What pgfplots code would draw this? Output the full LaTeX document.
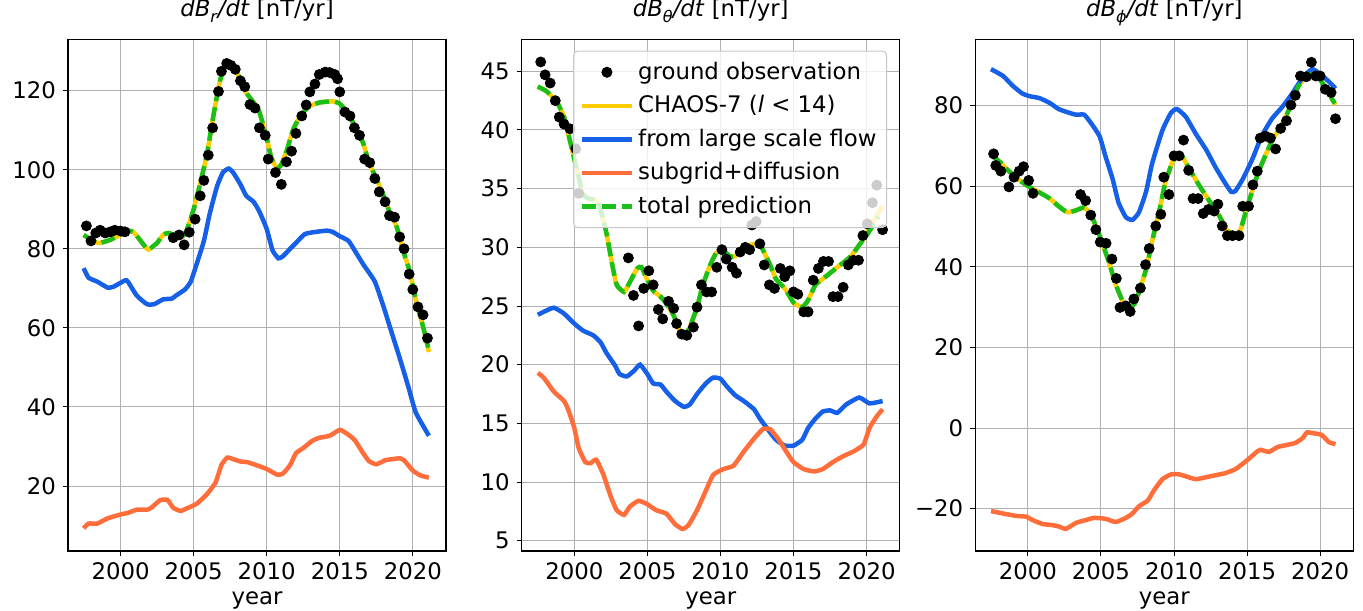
\documentclass[border=0pt]{standalone}
\usepackage{fontspec}
\setmainfont{DejaVu Sans}
\usepackage{pgfplots}
\pgfplotsset{compat=1.18}
\definecolor{cyel}{HTML}{FFCC00}
\definecolor{cblue}{HTML}{1560E6}
\definecolor{corange}{HTML}{FF6E3A}
\definecolor{cgreen}{HTML}{1ABF1A}
\definecolor{gridc}{HTML}{B0B0B0}
\newcommand{\fs}{\fontsize{11.4}{13.7}\selectfont}
\newcommand{\ttl}[1]{\textit{dB}\raisebox{-0.28em}{\fontsize{8}{8}\selectfont\textit{#1}}\textit{/dt} [nT/yr]}
\pgfplotsset{
 myax/.style={
  scale only axis, width=189pt, height=255.85pt, anchor=south west,
  xmin=1996.4, xmax=2022.27,
  xtick={2000,2005,...,2020},
  xticklabels={2000,2005,2010,2015,2020},
  grid=major, major grid style={color=gridc, line width=0.5pt},
  axis line style={line width=0.65pt},
  tick align=outside, tick pos=left, major tick length=2.5pt,
  tick style={black, line width=0.5pt},
  tick label style={font=\fs},
  xlabel={year}, label style={font=\fs},
  xlabel style={at={(0.5,0)}, anchor=base, yshift=-27pt},
  title style={font=\fs, at={(0.5,1)}, anchor=base, yshift=5.6pt},
 },
 obs/.style={only marks, mark=*, mark size=2.5pt, black, mark options={fill opacity=1}},
 chaos/.style={cyel, line width=2.25pt, no marks, smooth, tension=0.3},
 flow/.style={cblue, line width=2.25pt, no marks, smooth, tension=0.3},
 sub/.style={corange, line width=2.25pt, no marks, smooth, tension=0.3},
 tot/.style={cgreen, line width=2.25pt, no marks, smooth, tension=0.3, dash pattern=on 7pt off 3pt},
}
\begin{document}
\begin{tikzpicture}
\path[use as bounding box] (0,0) rectangle (681.5pt,305pt);
% ---------------- panel 1
\begin{axis}[myax, at={(34pt,29.5pt)}, ymin=3.56, ymax=133, ytick={20,40,...,120},
  yticklabels={20,40,60,80,100,120}, title={\ttl{r}}]
\addplot[obs] table {
1997.66 85.8
1997.97 82
1998.3 84
1998.6 84.7
1998.95 84
1999.3 84.3
1999.6 84.7
2000.0 84.5
2000.3 84.3
2003.6 82.8
2004.0 83.5
2004.35 81
2004.7 84.2
2005.1 87.5
2005.45 93.4
2005.7 97.3
2006.0 103.7
2006.3 110.6
2006.7 119.8
2006.9 124.9
2007.26 126.9
2007.55 126.4
2007.85 125.4
2008.2 122.5
2008.5 121
2008.85 116.5
2009.2 115.6
2009.5 110.6
2009.9 108.7
2010.1 102.7
2010.6 99.3
2011.0 96.3
2011.35 102
2011.7 104.7
2012.0 109.2
2012.4 113.6
2012.7 116.4
2012.95 119.7
2013.3 121.7
2013.6 124.1
2014.0 124.7
2014.3 124.6
2014.65 124.1
2014.85 123
2015.0 119.7
2015.35 114.6
2015.7 113.6
2016.0 110.6
2016.35 108.7
2016.7 102.7
2017.05 101.8
2017.4 97.8
2017.7 94.4
2018.1 91.9
2018.4 88.4
2018.75 88
2019.1 83
2019.4 80
2019.75 73.6
2020.0 69.7
2020.35 65.3
2020.7 63.3
2021.0 57.4
};
\addplot[chaos] table {
1997.47 83.5
1998.4 81.5
1999.1 82
2000.0 83.5
2000.5 84.5
2000.9 84.2
2001.8 80
2002.0 80
2002.5 81.5
2002.9 83.5
2003.3 84
2004.1 82.8
2004.5 84.5
2005.0 90
2005.4 95.8
2005.9 103.7
2006.3 112.6
2006.8 122.5
2007.3 127.4
2007.7 126
2008.2 123
2008.6 119.5
2009.1 117
2009.5 114.6
2010.0 108
2010.3 103.2
2010.7 100.3
2011.0 101.3
2011.4 105.2
2011.8 110.1
2012.3 113.6
2012.9 116
2013.6 117
2014.5 117.3
2015.0 116.7
2015.6 114
2016.1 110.6
2016.6 106.7
2017.0 101.8
2017.5 97.8
2018.0 93.4
2018.4 89.4
2018.9 85.5
2019.3 80
2019.8 74.1
2020.2 67.2
2020.7 60.3
2021.1 53.9
};
\addplot[flow] table {
1997.47 75.1
1997.8 72.7
1998.4 71.7
1999.1 70.2
1999.5 70.4
2000.3 72
2000.5 71.7
2001.1 68.2
2001.8 66
2002.3 66
2002.9 67.2
2003.5 67.4
2003.8 68.2
2004.4 69.7
2004.8 71.7
2005.2 76.1
2005.7 82
2006.1 88.9
2006.6 95.8
2007.0 99.3
2007.4 100.3
2007.7 99.3
2008.2 96.3
2008.6 93.4
2009.1 91.9
2009.5 89.4
2010.0 85
2010.4 79.6
2010.8 77.6
2011.1 78.1
2011.6 80
2012.0 81.5
2012.6 83.7
2013.2 84.2
2014.1 84.6
2014.5 84.3
2015.0 83.2
2015.6 82
2016.1 79.1
2016.6 76.1
2017.4 71.7
2018.0 65.3
2018.5 59.4
2019.1 52.4
2019.7 45
2020.2 38.6
2021.1 32.7
};
\addplot[sub] table {
1997.47 9.3
1997.8 10.5
1998.4 10.5
1999.1 11.8
2000.0 12.8
2000.5 13.2
2001.1 14
2001.8 14
2002.1 14.5
2002.7 16.4
2003.2 16.5
2003.6 14.5
2004.1 13.7
2004.5 14.3
2005.2 15.5
2005.9 17.9
2006.5 20.9
2006.9 25.3
2007.3 27.2
2007.7 26.8
2008.2 26.2
2008.7 26
2009.5 25
2010.0 24.3
2010.7 22.9
2011.1 23.1
2011.6 25.3
2012.0 28.3
2012.5 29.6
2013.1 31.4
2013.6 32.2
2014.3 32.7
2015.0 34.2
2015.5 33.2
2016.0 31.7
2016.6 28.3
2017.0 26.3
2017.5 25.5
2018.1 26.5
2018.6 26.8
2019.1 27
2019.4 26.5
2020.0 23.9
2020.5 22.7
2021.1 22.1
};
\addplot[tot] table {
1997.47 83.5
1998.4 81.5
1999.1 82
2000.0 83.5
2000.5 84.5
2000.9 84.2
2001.8 80
2002.0 80
2002.5 81.5
2002.9 83.5
2003.3 84
2004.1 82.8
2004.5 84.5
2005.0 90
2005.4 95.8
2005.9 103.7
2006.3 112.6
2006.8 122.5
2007.3 127.4
2007.7 126
2008.2 123
2008.6 119.5
2009.1 117
2009.5 114.6
2010.0 108
2010.3 103.2
2010.7 100.3
2011.0 101.3
2011.4 105.2
2011.8 110.1
2012.3 113.6
2012.9 116
2013.6 117
2014.5 117.3
2015.0 116.7
2015.6 114
2016.1 110.6
2016.6 106.7
2017.0 101.8
2017.5 97.8
2018.0 93.4
2018.4 89.4
2018.9 85.5
2019.3 80
2019.8 74.1
2020.2 67.2
2020.7 60.3
2021.05 55
};
\end{axis}
% ---------------- panel 2
\begin{axis}[myax, at={(260.85pt,29.5pt)}, ymin=4.12, ymax=47.73, ytick={5,10,...,45},
  yticklabels={5,10,15,20,25,30,35,40,45}, title={\ttl{\textit{θ}}},
  legend cell align=left,
  legend style={at={(1,1)}, anchor=north east, xshift=-6.35pt, yshift=-5.65pt,
    font=\fs, draw=gridc!70, rounded corners=2pt, line width=0.5pt,
    fill=white, fill opacity=0.8, draw opacity=1, text opacity=1,
    row sep=2.6pt, inner xsep=3pt, inner ysep=3.5pt},
  legend image code/.code={\draw[mark repeat=2,mark phase=2,fill opacity=1,#1] plot coordinates {(0cm,0cm) (0.44cm,0cm) (0.88cm,0cm)};}]
\addplot[obs] table {
1997.7 45.8
1998.0 44.7
1998.35 44
1998.7 42.5
1998.97 41.1
1999.3 40.5
1999.7 40.1
2000.1 38.4
2000.3 34.6
2003.7 29.1
2004.05 25.9
2004.4 23.3
2004.75 26.5
2005.1 28
2005.4 26.8
2005.75 24.7
2006.05 23.9
2006.45 25.4
2006.8 24.8
2007.0 23.5
2007.35 22.6
2007.7 22.5
2008.15 23.2
2008.4 24.9
2008.7 26.8
2009.05 26.2
2009.4 26.2
2009.75 28.3
2010.1 29.8
2010.4 29
2010.8 28.3
2011.1 27.8
2011.35 29.6
2011.7 30
2012.0 29.8
2012.15 31.9
2012.45 32.2
2012.7 30.3
2013.0 28.5
2013.35 26.8
2013.7 26.5
2014.1 28.2
2014.4 27.5
2014.75 28
2015.0 26.2
2015.3 26
2015.7 24.5
2016.0 24.5
2016.35 27.2
2016.7 28.2
2017.05 28.8
2017.4 28.8
2017.7 25.8
2018.05 25.8
2018.4 26.6
2018.75 28.5
2019.1 28.9
2019.45 28.9
2019.75 31
2020.05 32
2020.4 33.8
2020.7 35.3
2021.1 31.5
};
\addlegendentry{ground observation}
\addplot[chaos] table {
1997.5 43.7
1998.1 43.3
1998.8 42.4
1999.3 41.1
1999.7 39.1
2000.2 36.5
2000.6 34.5
2001.1 34.1
2001.5 34
2001.8 33.2
2002.2 31.2
2002.6 28.5
2002.9 26.8
2003.4 26.2
2003.7 26.8
2004.3 28.2
2004.6 28.3
2005.0 27.2
2005.4 26.3
2005.9 25.8
2006.3 25.2
2006.8 24.2
2007.2 22.9
2007.6 22.6
2007.9 23.2
2008.4 24.9
2008.8 26.8
2009.3 28.5
2009.7 29.5
2010.2 29.7
2010.7 29.2
2011.1 29.3
2011.6 29.8
2012.0 30.2
2012.6 30.3
2012.9 29.8
2013.4 28.5
2013.8 27.3
2014.4 26.5
2015.0 25.3
2015.6 24.9
2016.0 25.5
2016.5 26.8
2017.0 27.3
2017.5 27.8
2018.2 28.5
2018.9 29.2
2019.5 30.2
2020.0 31.2
2020.5 32.3
2021.1 33.5
};
\addlegendentry{CHAOS-7 (\textit{l} < 14)}
\addplot[flow] table {
1997.5 24.25
1997.9 24.5
1998.6 24.85
1999.3 24.35
2000.0 23.5
2000.6 22.9
2001.3 22.5
2001.8 21.9
2002.2 21
2002.8 19.9
2003.1 19.2
2003.6 19
2004.1 19.5
2004.5 20
2005.0 19.2
2005.4 18.4
2005.9 18.3
2006.3 17.7
2006.9 16.9
2007.5 16.4
2007.9 16.6
2008.4 17.5
2009.0 18.4
2009.5 18.9
2010.0 18.8
2010.4 18.2
2011.0 17.4
2011.6 16.9
2012.3 16.2
2012.7 15.4
2013.3 14.4
2013.8 13.6
2014.4 13.1
2015.0 13.1
2015.6 13.6
2016.0 14.6
2016.5 15.4
2017.0 16
2017.5 16.1
2018.0 15.9
2018.6 16.6
2019.5 17.2
2020.2 16.7
2021.1 16.9
};
\addlegendentry{from large scale flow}
\addplot[sub] table {
1997.5 19.3
1997.9 18.9
1998.6 17.7
1999.3 16.9
1999.6 16.1
2000.0 14.6
2000.3 12.9
2000.75 11.7
2001.1 11.6
2001.5 11.9
2002.0 10.6
2002.5 8.75
2002.9 7.6
2003.4 7.2
2003.8 7.9
2004.4 8.4
2005.0 8.1
2005.6 7.6
2006.3 7.3
2006.9 6.4
2007.4 6
2007.8 6.3
2008.4 7.6
2009.0 9.25
2009.5 10.6
2010.2 11.1
2010.9 11.4
2011.6 12.6
2012.3 13.7
2012.9 14.5
2013.4 14.5
2014.0 13.6
2014.5 12.6
2015.0 11.7
2015.7 11.1
2016.4 10.9
2017.0 11.1
2017.7 11.7
2018.4 12.2
2019.1 12.6
2019.8 13.2
2020.2 14.6
2020.7 15.6
2021.1 16.2
};
\addlegendentry{subgrid+diffusion}
\addplot[tot] table {
1997.5 43.7
1998.1 43.3
1998.8 42.4
1999.3 41.1
1999.7 39.1
2000.2 36.5
2000.6 34.5
2001.1 34.1
2001.5 34
2001.8 33.2
2002.2 31.2
2002.6 28.5
2002.9 26.8
2003.4 26.2
2003.7 26.8
2004.3 28.2
2004.6 28.3
2005.0 27.2
2005.4 26.3
2005.9 25.8
2006.3 25.2
2006.8 24.2
2007.2 22.9
2007.6 22.6
2007.9 23.2
2008.4 24.9
2008.8 26.8
2009.3 28.5
2009.7 29.5
2010.2 29.7
2010.7 29.2
2011.1 29.3
2011.6 29.8
2012.0 30.2
2012.6 30.3
2012.9 29.8
2013.4 28.5
2013.8 27.3
2014.4 26.5
2015.0 25.3
2015.6 24.9
2016.0 25.5
2016.5 26.8
2017.0 27.3
2017.5 27.8
2018.2 28.5
2018.9 29.2
2019.5 30.2
2020.0 31.0
2020.8 32.6
};
\addlegendentry{total prediction}
\end{axis}
% ---------------- panel 3
\begin{axis}[myax, at={(487.65pt,29.5pt)}, ymin=-30.5, ymax=96.4, ytick={-20,0,...,80},
  yticklabels={−20,0,20,40,60,80}, title={\ttl{\textit{ϕ}}}]
\addplot[obs] table {
1997.65 68
1997.8 65.1
1998.15 63.7
1998.7 59.8
1999.05 62.2
1999.4 63.7
1999.7 64.8
2000.05 61.4
2000.35 58.2
2003.6 57.9
2003.95 56.4
2004.3 52.8
2004.65 49.2
2004.95 46.1
2005.35 45.8
2005.75 41.9
2006.05 37.1
2006.3 29.9
2006.7 30.3
2007.0 28.9
2007.25 32
2007.7 34.7
2008.05 40.5
2008.3 44.5
2008.75 50.1
2009.1 53
2009.3 62.2
2009.65 57.9
2010.0 67.5
2010.35 67.5
2010.65 71.4
2011.0 63.9
2011.3 56.9
2011.65 56.9
2012.0 53.2
2012.35 54.2
2012.75 53.8
2013.0 55.5
2013.3 50.1
2013.65 47.7
2014.0 47.7
2014.45 47.7
2014.7 55
2015.1 55
2015.4 60.3
2015.7 63.7
2015.9 71.9
2016.25 72.4
2016.6 71.9
2016.95 69.2
2017.3 74.3
2017.7 76.2
2018.0 80.1
2018.3 82.5
2018.65 87.3
2019.05 87.1
2019.4 90.7
2019.7 87.3
2020.0 87.3
2020.35 84
2020.75 83.2
2021.05 76.7
};
\addplot[chaos] table {
1997.47 67.7
1998.04 66.1
1998.7 63.7
1999.4 61.5
2000.0 60
2000.8 58.4
2001.5 56.9
2002.1 55
2002.7 53.5
2003.3 54
2003.85 54.7
2004.3 53
2004.65 50.1
2005.1 45.8
2005.6 40.5
2006.0 35.7
2006.5 31.3
2006.9 29.9
2007.3 30.8
2007.6 33.7
2008.1 39.5
2008.5 46.3
2009.0 54
2009.4 60.8
2009.9 66.1
2010.2 67.5
2010.6 67.1
2011.0 64.6
2011.7 60.3
2012.4 56.4
2013.1 52.6
2013.6 49.2
2014.2 47.7
2014.55 49.2
2014.9 53.5
2015.35 58.8
2015.8 63.7
2016.3 68
2016.8 71.9
2017.4 75.3
2018.0 80.1
2018.5 84.7
2019.1 87.3
2019.45 87.8
2020.0 86.4
2020.5 83.5
2021.05 80.1
};
\addplot[flow] table {
1997.47 89
1998.3 87.3
1998.95 84.9
1999.6 83
2000.1 82.3
2000.8 81.8
2001.5 80.6
2002.1 79.1
2002.8 78.2
2003.3 77.7
2003.85 77.7
2004.3 75.7
2004.9 72.4
2005.3 67.5
2005.8 61.7
2006.2 55.9
2006.7 52.3
2007.15 51.6
2007.6 53.5
2008.1 58.8
2008.5 65.6
2009.2 73.8
2009.8 78.2
2010.2 79.1
2010.8 77.2
2011.5 72.9
2012.2 69
2012.85 64.6
2013.4 61.3
2013.9 58.6
2014.2 58.8
2014.7 61.7
2015.35 66.6
2016.0 72.4
2016.7 76.7
2017.4 79.6
2018.1 83
2018.8 86.9
2019.45 89
2020.0 87.8
2020.6 85.9
2021.05 84.2
};
\addplot[sub] table {
1997.47 -20.6
1998.3 -21.2
1999.2 -21.8
1999.9 -22
2000.3 -22.8
2001.0 -23.8
2001.7 -24.1
2002.1 -24.4
2002.6 -25
2003.3 -23.5
2004.0 -22.8
2004.5 -22.3
2005.3 -22.5
2006.0 -23.3
2006.7 -22.3
2007.15 -21.2
2007.6 -19.4
2008.2 -18
2008.6 -15.6
2009.2 -12.7
2009.8 -11.5
2010.35 -11.5
2011.0 -12.2
2011.5 -12.7
2012.2 -12.2
2012.85 -11.7
2013.5 -11.2
2014.2 -10.2
2014.9 -8.3
2015.6 -6.1
2015.9 -5.4
2016.5 -5.9
2017.1 -4.7
2017.6 -4.3
2018.3 -3.7
2018.8 -2.5
2019.1 -1.1
2019.55 -1.3
2020.1 -1.7
2020.6 -3.5
2021.05 -4
};
\addplot[tot] table {
1997.47 67.7
1998.04 66.1
1998.7 63.7
1999.4 61.5
2000.0 60
2000.8 58.4
2001.5 56.9
2002.1 55
2002.7 53.5
2003.3 54
2003.85 54.7
2004.3 53
2004.65 50.1
2005.1 45.8
2005.6 40.5
2006.0 35.7
2006.5 31.3
2006.9 29.9
2007.3 30.8
2007.6 33.7
2008.1 39.5
2008.5 46.3
2009.0 54
2009.4 60.8
2009.9 66.1
2010.2 67.5
2010.6 67.1
2011.0 64.6
2011.7 60.3
2012.4 56.4
2013.1 52.6
2013.6 49.2
2014.2 47.7
2014.55 49.2
2014.9 53.5
2015.35 58.8
2015.8 63.7
2016.3 68
2016.8 71.9
2017.4 75.3
2018.0 80.1
2018.5 84.7
2019.1 87.3
2019.45 87.8
2020.0 86.4
2020.5 83.5
2021.0 80.5
};
\end{axis}
\end{tikzpicture}
\end{document}
